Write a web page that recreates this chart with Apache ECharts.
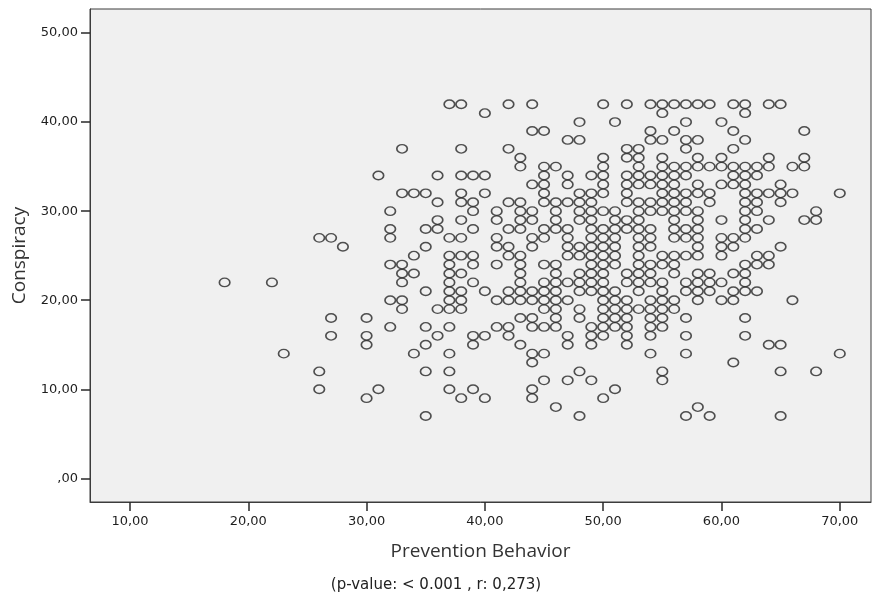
<!DOCTYPE html>
<html>
<head>
<meta charset="utf-8">
<script src="https://cdn.jsdelivr.net/npm/echarts@6/dist/echarts.min.js"></script>
<style>
  html, body { margin: 0; padding: 0; background: #fff; }
  #chart { width: 872px; height: 596px; }
</style>
</head>
<body>
<div id="chart"></div>
<script>
// tick positions on both axes
const xTicks = [10, 20, 30, 40, 50, 60, 70];
const yTicks = [0, 10, 20, 30, 40, 50];

// [Prevention Behavior, Conspiracy]
const points = [
  // left, sparse part
  [18, 22], [22, 22], [23, 14], [26, 27], [27, 27], [28, 26], [26, 12], [26, 10],
  [27, 18], [27, 16], [30, 18], [30, 16], [30, 15], [30, 9], [31, 10], [31, 34],
  // x 31..41, upper
  [37, 42], [38, 42], [40, 41], [33, 37], [38, 37], [36, 34], [38, 34], [39, 34], [40, 34],
  [33, 32], [34, 32], [35, 32], [38, 32], [40, 32], [36, 31], [38, 31], [39, 31],
  [39, 30], [32, 30], [41, 30], [41, 29], [36, 29], [38, 29], [32, 28], [35, 28], [36, 28],
  [39, 28], [32, 27], [37, 27], [38, 27], [41, 27], [41, 26], [35, 26], [34, 25], [37, 25],
  [38, 25], [39, 25],
  // x 31..41, lower
  [32, 24], [33, 24], [37, 24], [39, 24], [41, 24], [33, 23], [34, 23], [37, 23], [38, 23],
  [33, 22], [37, 22], [39, 22], [35, 21], [37, 21], [38, 21], [40, 21], [32, 20], [33, 20],
  [37, 20], [38, 20], [41, 20], [33, 19], [36, 19], [37, 19], [38, 19], [32, 17], [35, 17],
  [37, 17], [41, 17], [36, 16], [39, 16], [40, 16], [35, 15], [39, 15], [34, 14], [37, 14],
  [35, 12], [37, 12], [37, 10], [39, 10], [38, 9], [40, 9], [35, 7],
  // x 42..50, upper
  [42, 42], [44, 42], [50, 42], [48, 40], [44, 39], [45, 39], [47, 38], [48, 38], [42, 37],
  [43, 36], [43, 35], [45, 35], [46, 35], [50, 36], [50, 35], [45, 34], [47, 34], [49, 34],
  [50, 34], [44, 33], [45, 33], [47, 33], [50, 33], [45, 32], [48, 32], [49, 32], [50, 32],
  [42, 31], [43, 31], [45, 31], [46, 31], [47, 31], [48, 31], [49, 31], [50, 30], [43, 30],
  [44, 30], [46, 30], [48, 30], [49, 30], [43, 29], [44, 29], [46, 29], [48, 29], [49, 29],
  [42, 28], [43, 28], [45, 28], [46, 28], [47, 28], [49, 28], [44, 27], [45, 27], [47, 27],
  [49, 27], [50, 27], [42, 26], [44, 26], [47, 26], [48, 26], [49, 26], [50, 26], [42, 25],
  [43, 25], [47, 25], [48, 25], [49, 25], [50, 25],
  // x 42..51, lower
  [43, 24], [45, 24], [46, 24], [49, 24], [50, 24], [43, 23], [46, 23], [48, 23], [49, 23],
  [50, 23], [43, 22], [45, 22], [46, 22], [47, 22], [48, 22], [49, 22], [50, 22], [42, 21],
  [43, 21], [44, 21], [45, 21], [46, 21], [48, 21], [49, 21], [50, 21], [42, 20], [43, 20],
  [44, 20], [45, 20], [46, 20], [47, 20], [50, 20], [45, 19], [46, 19], [48, 19], [50, 19],
  [43, 18], [44, 18], [46, 18], [48, 18], [50, 18], [42, 17], [44, 17], [45, 17], [46, 17],
  [49, 17], [50, 17], [42, 16], [47, 16], [49, 16], [50, 16], [43, 15], [47, 15], [49, 15],
  [44, 14], [45, 14], [44, 13], [48, 12], [45, 11], [47, 11], [49, 11], [44, 10], [51, 10],
  [44, 9], [50, 9], [46, 8], [48, 7],
  // x 51..60, upper
  [52, 42], [54, 42], [55, 42], [56, 42], [57, 42], [58, 42], [59, 42], [55, 41], [51, 40],
  [57, 40], [54, 39], [56, 39], [54, 38], [55, 38], [57, 38], [58, 38], [57, 37], [52, 37],
  [53, 37], [52, 36], [53, 36], [55, 36], [58, 36], [53, 35], [55, 35], [56, 35], [57, 35],
  [58, 35], [59, 35], [60, 35], [52, 34], [53, 34], [54, 34], [55, 34], [56, 34], [57, 34],
  [52, 33], [53, 33], [54, 33], [55, 33], [56, 33], [58, 33], [52, 32], [55, 32], [56, 32],
  [57, 32], [58, 32], [59, 32], [52, 31], [53, 31], [54, 31], [55, 31], [56, 31], [57, 31],
  [59, 31], [51, 30], [53, 30], [54, 30], [55, 30], [56, 30], [57, 30], [58, 30], [51, 29],
  [52, 29], [53, 29], [56, 29], [58, 29], [60, 29], [50, 28], [51, 28], [52, 28], [53, 28],
  [54, 28], [56, 28], [57, 28], [58, 28], [51, 27], [53, 27], [54, 27], [56, 27], [57, 27],
  [58, 27], [60, 27], [51, 26], [53, 26], [54, 26], [58, 26], [51, 25], [53, 25], [55, 25],
  [56, 25], [57, 25], [58, 25],
  // x 51..60, lower
  [51, 24], [53, 24], [54, 24], [55, 24], [56, 24], [52, 23], [53, 23], [54, 23], [56, 23],
  [58, 23], [59, 23], [52, 22], [53, 22], [54, 22], [55, 22], [57, 22], [58, 22], [59, 22],
  [51, 21], [53, 21], [55, 21], [57, 21], [58, 21], [59, 21], [51, 20], [52, 20], [54, 20],
  [55, 20], [56, 20], [58, 20], [60, 20], [51, 19], [52, 19], [53, 19], [54, 19], [55, 19],
  [56, 19], [51, 18], [52, 18], [54, 18], [55, 18], [57, 18], [51, 17], [52, 17], [54, 17],
  [55, 17], [52, 16], [54, 16], [57, 16], [52, 15], [54, 14], [57, 14], [55, 12], [55, 11],
  [58, 8], [57, 7], [59, 7],
  // x 60..70, upper
  [61, 42], [62, 42], [64, 42], [65, 42], [62, 41], [60, 40], [61, 39], [67, 39], [62, 38],
  [61, 37], [60, 36], [64, 36], [67, 36], [61, 35], [62, 35], [63, 35], [64, 35], [66, 35],
  [67, 35], [61, 34], [62, 34], [63, 34], [60, 33], [61, 33], [62, 33], [65, 33], [62, 32],
  [63, 32], [64, 32], [65, 32], [66, 32], [70, 32], [62, 31], [63, 31], [65, 31], [62, 30],
  [63, 30], [68, 30], [62, 29], [64, 29], [67, 29], [68, 29], [62, 28], [63, 28], [61, 27],
  [62, 27], [60, 26], [61, 26], [65, 26], [60, 25], [63, 25], [64, 25],
  // x 60..70, lower
  [62, 24], [63, 24], [64, 24], [61, 23], [62, 23], [60, 22], [62, 22], [61, 21], [62, 21],
  [63, 21], [61, 20], [66, 20], [62, 18], [62, 16], [64, 15], [65, 15], [70, 14], [61, 13],
  [65, 12], [68, 12], [65, 7]
];

const xName = 'Prevention Behavior';
const yName = 'Conspiracy';
const note = '(p-value: < 0.001 , r: 0,273)';

const fmt = v => (v === 0 ? ',00' : v.toFixed(2).replace('.', ','));
const axisColor = '#3c3c3c';
const labelStyle = { color: '#1e1e1e', fontFamily: 'DejaVu Sans', fontSize: 13 };

const chart = echarts.init(document.getElementById('chart'), null, { renderer: 'canvas' });

chart.setOption({
  animation: false,
  backgroundColor: '#fff',
  title: {
    text: note,
    left: 'center',
    top: 573,
    textStyle: { color: '#222', fontFamily: 'DejaVu Sans', fontSize: 15, fontWeight: 'normal' }
  },
  grid: {
    left: 90, right: 1, top: 9, bottom: 94,
    show: true,
    backgroundColor: '#f0f0f0',
    borderColor: axisColor,
    borderWidth: 1
  },
  xAxis: {
    type: 'value',
    position: 'bottom',
    min: 6.62,
    max: 72.64,
    name: xName,
    nameLocation: 'middle',
    nameGap: 40,
    nameTextStyle: { color: '#333', fontFamily: 'Open Sans', fontSize: 19 },
    axisLine: { show: true, onZero: false, lineStyle: { color: axisColor } },
    axisTick: {
      show: true, inside: false, length: 9, customValues: xTicks,
      lineStyle: { color: '#2a2a2a', width: 1.5 }
    },
    axisLabel: Object.assign({ margin: 13, customValues: xTicks, formatter: fmt }, labelStyle),
    splitLine: { show: false }
  },
  yAxis: {
    type: 'value',
    min: -2.66,
    max: 52.7,
    name: yName,
    nameLocation: 'middle',
    nameGap: 61,
    nameTextStyle: { color: '#333', fontFamily: 'Open Sans', fontSize: 19 },
    axisLine: { show: true, onZero: false, lineStyle: { color: axisColor } },
    axisTick: {
      show: true, inside: false, length: 9, customValues: yTicks,
      lineStyle: { color: '#2a2a2a', width: 1.5 }
    },
    axisLabel: Object.assign({ margin: 12, customValues: yTicks, formatter: fmt }, labelStyle),
    splitLine: { show: false }
  },
  series: [{
    type: 'scatter',
    data: points,
    symbol: 'path://M0,5A5,5,0,1,1,10,5A5,5,0,1,1,0,5Z',
    symbolSize: [10.5, 8.5],
    itemStyle: { color: 'rgba(0,0,0,0)', borderColor: '#262626', borderWidth: 1.5 },
    emphasis: { disabled: true }
  }]
});
</script>
</body>
</html>
